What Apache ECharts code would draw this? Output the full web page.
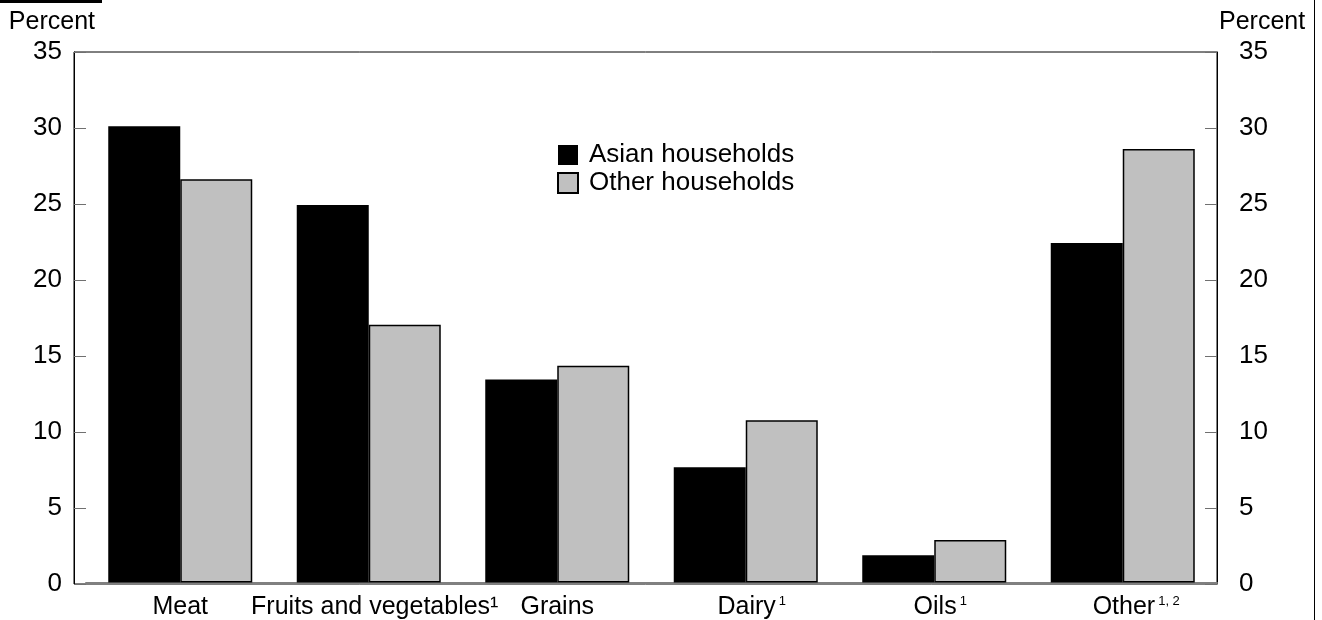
<!DOCTYPE html>
<html>
<head>
<meta charset="utf-8">
<script src="https://cdn.jsdelivr.net/npm/echarts@6/dist/echarts.min.js"></script>
<style>
html,body{margin:0;padding:0;background:#fff;}
#chart{width:1322px;height:620px;}
</style>
</head>
<body>
<div id="chart"></div>
<script>
var categories = ['Meat', 'Fruits and vegetables\u00b9', 'Grains', 'Dairy', 'Oils', 'Other'];
var superscripts = ['', '', '', '1', '1', '1, 2'];
var asianValues = [30.1, 24.9, 13.4, 7.6, 1.8, 22.4];
var otherValues = [26.6, 17.0, 14.3, 10.7, 2.8, 28.6];
var seriesNames = ['Asian households', 'Other households'];
var yMin = 0, yMax = 35, yInterval = 5;

var FONT = '"Liberation Sans", Arial, sans-serif';
var chart = echarts.init(document.getElementById('chart'));

var yAxisCommon = {
  type: 'value', gridIndex: 0, min: yMin, max: yMax, interval: yInterval,
  splitLine: {show: false},
  axisLine: {show: true, lineStyle: {color: '#000', width: 1}},
  axisTick: {show: true, inside: true, length: 12, lineStyle: {color: '#707070', width: 1}},
  axisLabel: {fontFamily: FONT, fontSize: 26, color: '#000'},
  nameTextStyle: {fontFamily: FONT, fontSize: 25, color: '#000'},
  name: 'Percent', nameGap: 17
};

function supWidth(s) { return s.length === 1 ? 10 : 27; }

chart.setOption({
  animation: false,
  textStyle: {fontFamily: FONT},
  grid: [
    {left: 74, right: 105, top: 52, bottom: 36, show: true, borderColor: '#000', borderWidth: 1, backgroundColor: 'transparent'},
    {left: 86, right: 105, top: 52, bottom: 36}
  ],
  legend: {
    orient: 'vertical', left: 552, top: 137, itemWidth: 20, itemHeight: 20, itemGap: 2,
    icon: 'rect',
    textStyle: {fontFamily: FONT, fontSize: 26, color: '#000', lineHeight: 20, padding: [2,0,0,6]},
    data: seriesNames
  },
  xAxis: [
    {type: 'value', gridIndex: 0, min: 0, max: 1, show: false},
    {
      type: 'category', gridIndex: 1, data: categories,
      axisLine: {show: true, lineStyle: {color: '#808080', width: 2}},
      axisTick: {show: false},
      axisLabel: {
        interval: 0, margin: 12,
        formatter: function (v, i) {
          var s = superscripts[i];
          if (i === 1) return '{q1|}{n|' + v + '}';
          return s ? '{q' + (s.length === 1 ? 1 : 2) + '|}{n|' + v + '}{s|' + s + '}' : '{n|' + v + '}';
        },
        rich: {
          n: {fontFamily: FONT, fontSize: 25, color: '#000', lineHeight: 26},
          s: {fontFamily: FONT, fontSize: 13, color: '#000', verticalAlign: 'top', lineHeight: 26, padding: [0,0,10,3]},
          q1: {width: 12},
          q2: {width: 27}
        }
      }
    }
  ],
  yAxis: [
    Object.assign({}, yAxisCommon, {position: 'left', axisLabel: Object.assign({}, yAxisCommon.axisLabel, {margin: 12}), nameTextStyle: Object.assign({}, yAxisCommon.nameTextStyle, {align: 'right', padding: [0, -21, 0, 0]})}),
    Object.assign({}, yAxisCommon, {position: 'right', axisLabel: Object.assign({}, yAxisCommon.axisLabel, {margin: 22}), nameTextStyle: Object.assign({}, yAxisCommon.nameTextStyle, {align: 'left', padding: [0, 0, 0, 2]})}),
    {type: 'value', gridIndex: 1, min: yMin, max: yMax, interval: yInterval, show: false}
  ],
  graphic: [
    {type: 'rect', shape: {x: 0, y: 0, width: 102, height: 3}, style: {fill: '#000'}},
    {type: 'line', shape: {x1: 1314.5, y1: 0, x2: 1314.5, y2: 620}, style: {stroke: '#000', lineWidth: 1}}
  ],
  series: [
    {
      name: seriesNames[0], type: 'bar', xAxisIndex: 1, yAxisIndex: 2,
      data: asianValues, barWidth: 72, barGap: '0%',
      itemStyle: {color: '#000'}
    },
    {
      name: seriesNames[1], type: 'bar', xAxisIndex: 1, yAxisIndex: 2,
      data: otherValues, barWidth: 72, barGap: '0%',
      itemStyle: {color: '#c0c0c0', borderColor: '#000', borderWidth: 1.5}
    }
  ]
});
</script>
</body>
</html>
